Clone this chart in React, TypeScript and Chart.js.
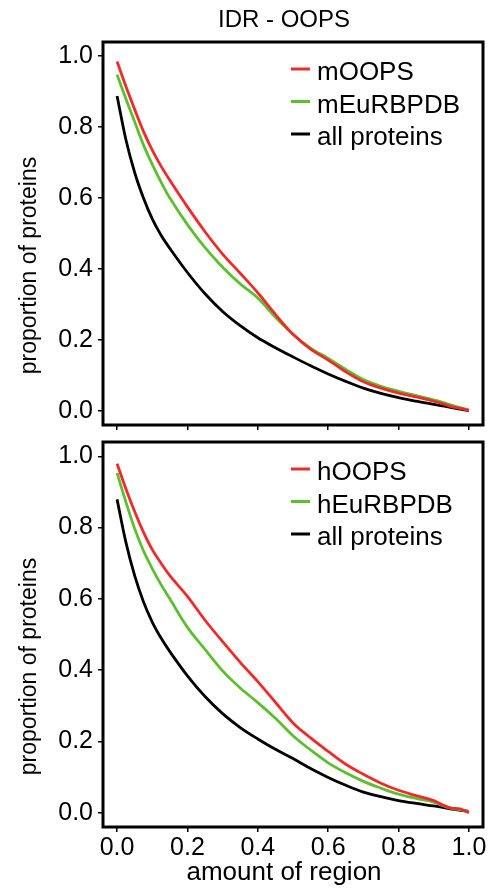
import React, { useEffect, useRef } from 'react';
import { Chart, registerables } from 'chart.js';

Chart.register(...registerables);

// ---------- data ----------
const xValues = [0, 0.025, 0.05, 0.075, 0.1, 0.125, 0.15, 0.2, 0.25, 0.3, 0.35, 0.4, 0.45, 0.5, 0.55, 0.6, 0.65, 0.7, 0.75, 0.8, 0.85, 0.9, 0.925, 0.95, 0.975, 1.0];

const mOOPS = [0.985, 0.915, 0.85, 0.788, 0.735, 0.69, 0.65, 0.575, 0.505, 0.442, 0.388, 0.333, 0.272, 0.216, 0.174, 0.143, 0.11, 0.082, 0.064, 0.05, 0.039, 0.027, 0.02, 0.012, 0.007, 0.001];
const mEuRBPDB = [0.948, 0.88, 0.815, 0.75, 0.695, 0.645, 0.6, 0.525, 0.46, 0.405, 0.358, 0.318, 0.264, 0.216, 0.177, 0.148, 0.117, 0.088, 0.069, 0.055, 0.043, 0.031, 0.024, 0.016, 0.009, 0.002];
const allTop = [0.888, 0.765, 0.672, 0.6, 0.541, 0.495, 0.458, 0.39, 0.33, 0.28, 0.24, 0.206, 0.178, 0.152, 0.127, 0.104, 0.083, 0.064, 0.049, 0.037, 0.027, 0.018, 0.014, 0.009, 0.005, 0.0];

const hOOPS = [0.979, 0.909, 0.845, 0.787, 0.738, 0.7, 0.665, 0.607, 0.54, 0.48, 0.422, 0.368, 0.31, 0.252, 0.21, 0.172, 0.136, 0.108, 0.083, 0.063, 0.048, 0.034, 0.022, 0.013, 0.011, 0.0];
const hEuRBPDB = [0.953, 0.872, 0.797, 0.735, 0.685, 0.64, 0.6, 0.52, 0.458, 0.398, 0.35, 0.309, 0.265, 0.216, 0.176, 0.14, 0.112, 0.088, 0.069, 0.052, 0.04, 0.03, 0.02, 0.012, 0.008, 0.004];
const allBottom = [0.879, 0.759, 0.665, 0.592, 0.535, 0.49, 0.452, 0.384, 0.326, 0.278, 0.239, 0.207, 0.178, 0.152, 0.124, 0.099, 0.077, 0.058, 0.045, 0.034, 0.026, 0.019, 0.015, 0.01, 0.007, 0.004];

const topLabels = ['mOOPS', 'mEuRBPDB', 'all proteins'];
const bottomLabels = ['hOOPS', 'hEuRBPDB', 'all proteins'];
const seriesColors = ['#ee2a2a', '#5cbf30', '#000000'];

const xTicks = [0, 0.2, 0.4, 0.6, 0.8, 1.0];
const yTicks = [0, 0.2, 0.4, 0.6, 0.8, 1.0];

const chartTitle = 'IDR - OOPS';
const xAxisTitle = 'amount of region';
const yAxisTitle = 'proportion of proteins';

// ---------- styling ----------
const FONT = '"Liberation Sans", Arial, Helvetica, sans-serif';
const W = 493;

const decorPlugin = {
  id: 'decor',
  afterDraw(chart: any, _args: any, opts: any) {
    const ctx = chart.ctx;
    const a = chart.chartArea;
    ctx.save();
    // box
    ctx.strokeStyle = '#000';
    ctx.lineWidth = 3;
    ctx.strokeRect(a.left, a.top, a.right - a.left, a.bottom - a.top);

    // legend
    ctx.font = `26px ${FONT}`;
    ctx.textAlign = 'left';
    ctx.textBaseline = 'alphabetic';
    const rows = [27, 59.5, 92];
    (opts.labels || []).forEach((lab: string, i: number) => {
      const y = a.top + rows[i];
      ctx.strokeStyle = seriesColors[i];
      ctx.lineWidth = 3;
      ctx.beginPath();
      ctx.moveTo(291, y);
      ctx.lineTo(310, y);
      ctx.stroke();
      ctx.fillStyle = '#000';
      ctx.fillText(lab, 317, y + 11);
    });

    // y axis title
    ctx.save();
    ctx.font = `23px ${FONT}`;
    ctx.fillStyle = '#000';
    ctx.textAlign = 'center';
    ctx.translate(36, (a.top + a.bottom) / 2 + 32);
    ctx.rotate(-Math.PI / 2);
    ctx.fillText(yAxisTitle, 0, 0);
    ctx.restore();

    if (opts.title) {
      ctx.font = `24px ${FONT}`;
      ctx.fillStyle = '#000';
      ctx.textAlign = 'center';
      ctx.fillText(opts.title, 284, 27);
    }
    if (opts.xTitle) {
      ctx.font = `26px ${FONT}`;
      ctx.fillStyle = '#000';
      ctx.textAlign = 'center';
      ctx.fillText(opts.xTitle, 284, a.bottom + 53);
    }
    ctx.restore();
  },
};

function makeConfig(series: number[][], labels: string[], canvasH: number, showX: boolean, extra: any): any {
  const xAxisH = canvasH - 42 - 385;
  return {
    type: 'line',
    data: {
      datasets: series.map((s, i) => ({
        label: labels[i],
        data: xValues.map((x, j) => ({ x, y: s[j] })),
        borderColor: seriesColors[i],
        borderWidth: 2.8,
        pointRadius: 0,
        fill: false,
        tension: 0.35,
      })),
    },
    options: {
      animation: false,
      responsive: false,
      maintainAspectRatio: false,
      layout: { padding: { top: 42, right: 10, left: 0, bottom: 0 } },
      plugins: {
        legend: { display: false },
        title: { display: false },
        tooltip: { enabled: false },
        decor: { labels, ...extra },
      },
      scales: {
        x: {
          type: 'linear',
          min: -0.04,
          max: 1.04,
          afterBuildTicks: (s: any) => {
            s.ticks = xTicks.map((v) => ({ value: v }));
          },
          afterFit: (s: any) => {
            s.height = xAxisH;
          },
          ticks: {
            display: showX,
            color: '#000',
            padding: 1,
            maxRotation: 0,
            autoSkip: false,
            font: { family: FONT, size: 25 },
            callback: (v: any) => Number(v).toFixed(1),
          },
          grid: { drawOnChartArea: false, drawTicks: true, tickLength: 5, color: '#000', lineWidth: 1.5 },
          border: { display: false },
        },
        y: {
          type: 'linear',
          min: -0.04,
          max: 1.04,
          afterBuildTicks: (s: any) => {
            s.ticks = yTicks.map((v) => ({ value: v }));
          },
          afterFit: (s: any) => {
            s.width = 103;
          },
          ticks: {
            color: '#000',
            padding: 5,
            autoSkip: false,
            font: { family: FONT, size: 25 },
            callback: (v: any) => Number(v).toFixed(1),
          },
          grid: { drawOnChartArea: false, drawTicks: true, tickLength: 5, color: '#000', lineWidth: 1.5 },
          border: { display: false },
        },
      },
    },
    plugins: [decorPlugin],
  };
}

const TOP_H = 445;
const BOT_TOP = 400;
const BOT_H = 490;

export default function App() {
  const topRef = useRef<HTMLCanvasElement>(null);
  const botRef = useRef<HTMLCanvasElement>(null);

  useEffect(() => {
    const c1 = new Chart(topRef.current as HTMLCanvasElement, makeConfig([mOOPS, mEuRBPDB, allTop], topLabels, TOP_H, false, { title: chartTitle }));
    const c2 = new Chart(botRef.current as HTMLCanvasElement, makeConfig([hOOPS, hEuRBPDB, allBottom], bottomLabels, BOT_H, true, { xTitle: xAxisTitle }));
    return () => {
      c1.destroy();
      c2.destroy();
    };
  }, []);

  return (
    <div style={{ position: 'absolute', left: 0, top: 0, width: W, height: 890, background: '#fff' }}>
      <canvas ref={topRef} width={W} height={TOP_H} style={{ position: 'absolute', left: 0, top: 0, width: W, height: TOP_H }} />
      <canvas ref={botRef} width={W} height={BOT_H} style={{ position: 'absolute', left: 0, top: BOT_TOP, width: W, height: BOT_H }} />
    </div>
  );
}
